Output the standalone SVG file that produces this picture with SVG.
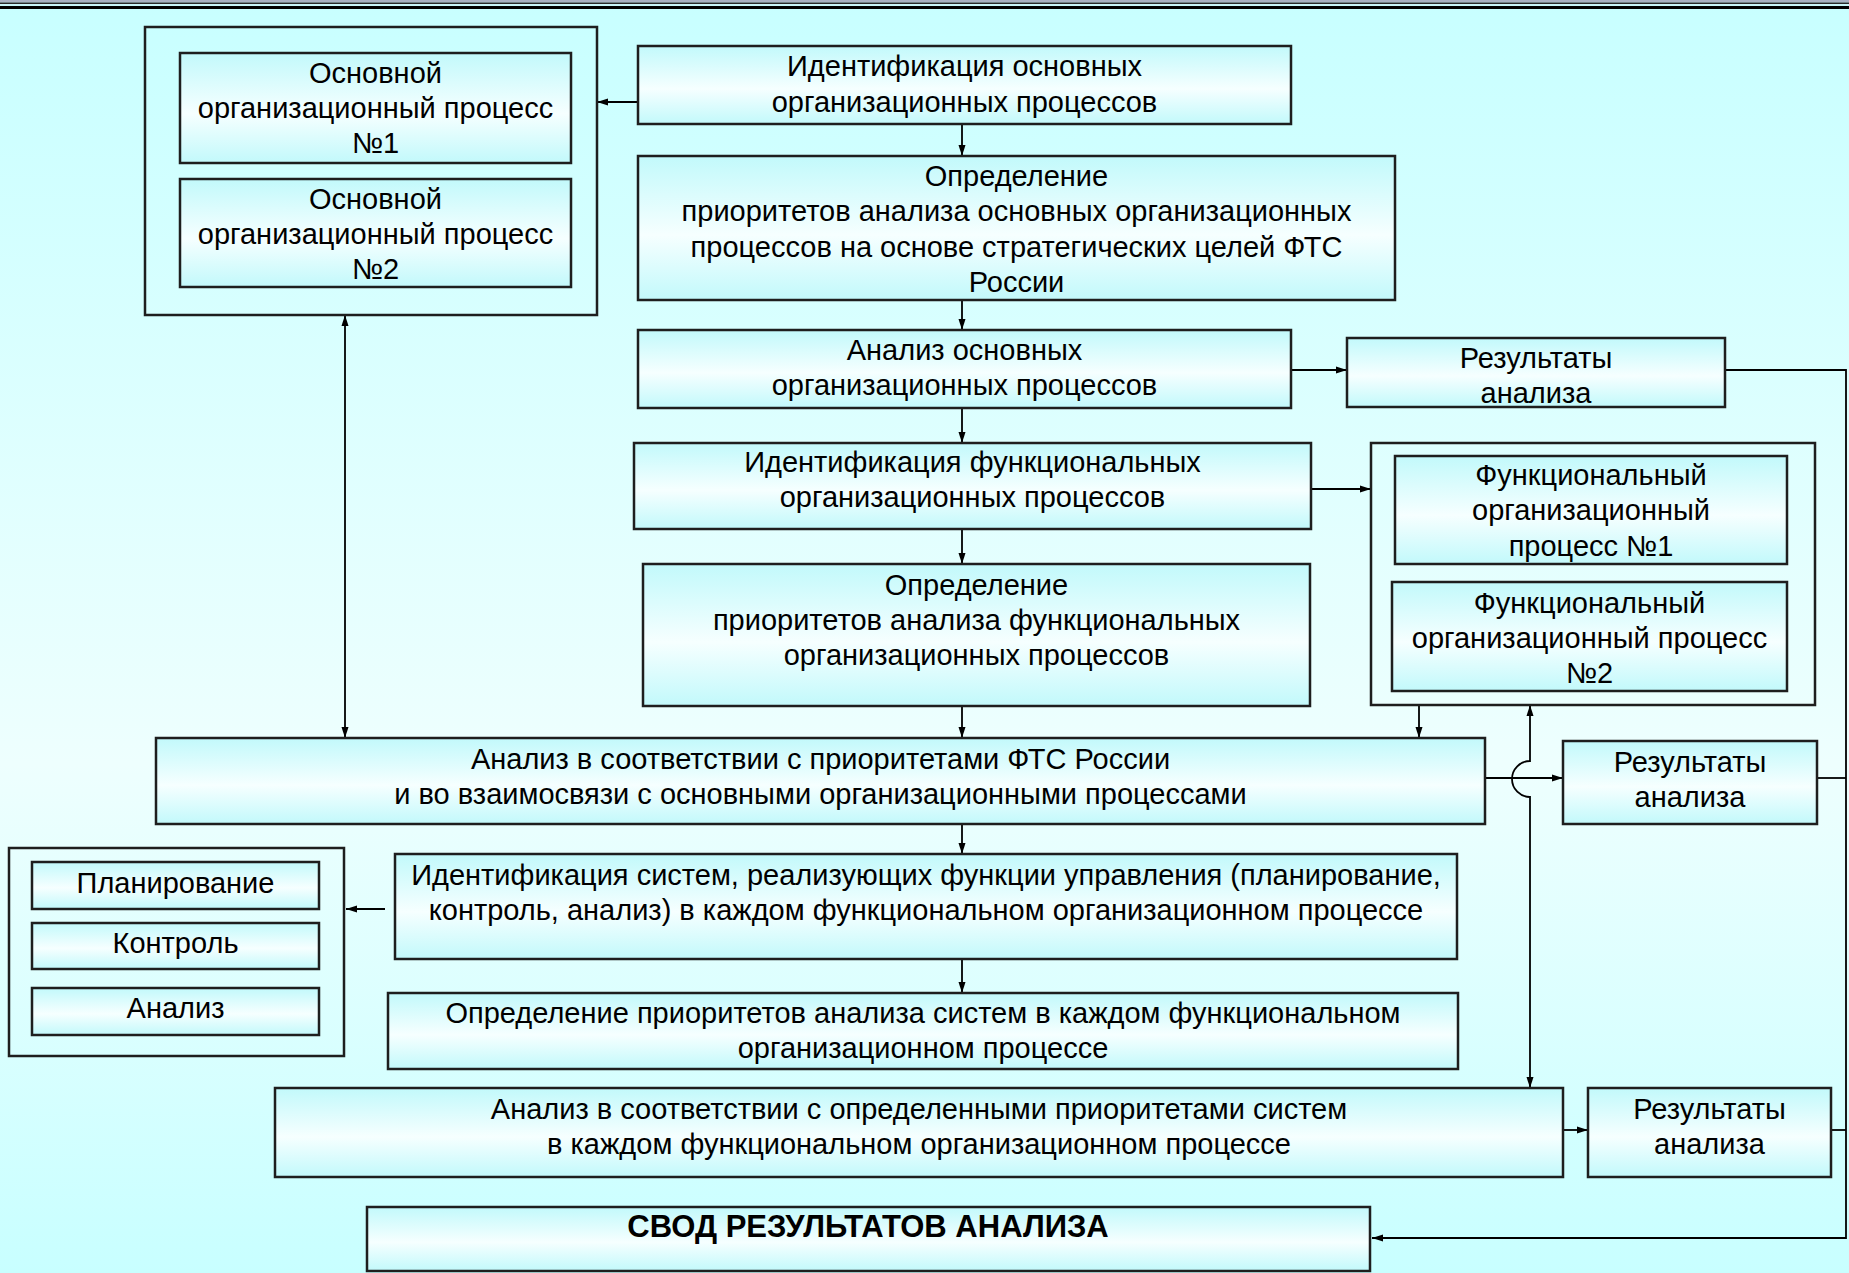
<svg xmlns="http://www.w3.org/2000/svg" width="1849" height="1273" viewBox="0 0 1849 1273">
<defs>
<linearGradient id="bg" x1="0" y1="0" x2="0" y2="1">
<stop offset="0" stop-color="#c8ffff"/>
<stop offset="0.6" stop-color="#eefffe"/>
<stop offset="1" stop-color="#c8ffff"/>
</linearGradient>
<linearGradient id="bx" x1="0" y1="0" x2="0" y2="1">
<stop offset="0" stop-color="#c2f9fb"/>
<stop offset="0.55" stop-color="#f6ffff"/>
<stop offset="1" stop-color="#c2f9fb"/>
</linearGradient>
<marker id="ah" viewBox="0 0 11 8" refX="11" refY="4" markerWidth="11" markerHeight="8" markerUnits="userSpaceOnUse" orient="auto-start-reverse">
<path d="M0,0.5 L11,4 L0,7.5 z" fill="#000"/>
</marker>
<style>
.box{fill:url(#bx);stroke:#1e1e1e;stroke-width:2.5}
.cont{fill:none;stroke:#1e1e1e;stroke-width:2.5}
.t{font-family:"Liberation Sans",Arial,sans-serif;font-size:29px;fill:#000;text-anchor:middle}
.b{font-weight:bold;font-size:31px}
.c{fill:none;stroke:#000;stroke-width:1.8}
.a{marker-end:url(#ah)}
.d{marker-start:url(#ah);marker-end:url(#ah)}
</style>
</defs>
<rect x="0" y="0" width="1849" height="1273" fill="url(#bg)"/>
<rect x="0" y="0" width="1849" height="2.5" fill="#a9b1c2"/>
<rect x="0" y="2.5" width="1849" height="1.5" fill="#2a2a2a"/>
<rect x="0" y="4" width="1849" height="2" fill="#c9f5f8"/>
<rect x="0" y="6" width="1849" height="3" fill="#000"/>

<g id="connectors">
<path class="c a" d="M638,102 H597"/>
<path class="c a" d="M962,124 V156"/>
<path class="c a" d="M962,300 V330"/>
<path class="c a" d="M1291,370 H1347"/>
<path class="c a" d="M962,408 V443"/>
<path class="c a" d="M1311,489 H1371"/>
<path class="c a" d="M962,529 V564"/>
<path class="c a" d="M962,706 V738"/>
<path class="c a" d="M1419,705 V738"/>
<path class="c d" d="M345,315 V738"/>
<path class="c d" d="M1530,705 V761 A18,18 0 0 0 1530,797 V1088"/>
<path class="c a" d="M1485,778 H1563"/>
<path class="c a" d="M962,824 V854"/>
<path class="c a" d="M385,909 H346"/>
<path class="c a" d="M962,959 V993"/>
<path class="c a" d="M1563,1130 H1588"/>
<path class="c a" d="M1725,370 H1846 V1238 H1372"/>
<path class="c" d="M1817,778 H1846"/>
<path class="c" d="M1831,1130 H1846"/>
</g>

<g id="osn-container"><rect class="cont" x="145" y="27" width="452" height="288"/></g>
<g id="osn1"><rect class="box" x="180" y="53" width="391" height="110"/>
<text class="t"><tspan x="375.5" y="83">Основной</tspan><tspan x="375.5" y="118">организационный процесс</tspan><tspan x="375.5" y="153">№1</tspan></text></g>
<g id="osn2"><rect class="box" x="180" y="179" width="391" height="108"/>
<text class="t"><tspan x="375.5" y="209">Основной</tspan><tspan x="375.5" y="244">организационный процесс</tspan><tspan x="375.5" y="279">№2</tspan></text></g>

<g id="ident-osn"><rect class="box" x="638" y="46" width="653" height="78"/>
<text class="t"><tspan x="964.5" y="76">Идентификация основных</tspan><tspan x="964.5" y="112">организационных процессов</tspan></text></g>

<g id="opred-osn"><rect class="box" x="638" y="156" width="757" height="144"/>
<text class="t"><tspan x="1016.5" y="186">Определение</tspan><tspan x="1016.5" y="221">приоритетов анализа основных организационных</tspan><tspan x="1016.5" y="257">процессов на основе стратегических целей ФТС</tspan><tspan x="1016.5" y="292">России</tspan></text></g>

<g id="analiz-osn"><rect class="box" x="638" y="330" width="653" height="78"/>
<text class="t"><tspan x="964.5" y="360">Анализ основных</tspan><tspan x="964.5" y="395">организационных процессов</tspan></text></g>

<g id="rez1"><rect class="box" x="1347" y="338" width="378" height="69"/>
<text class="t"><tspan x="1536" y="368">Результаты</tspan><tspan x="1536" y="403">анализа</tspan></text></g>

<g id="ident-func"><rect class="box" x="634" y="443" width="677" height="86"/>
<text class="t"><tspan x="972.5" y="472">Идентификация функциональных</tspan><tspan x="972.5" y="507">организационных процессов</tspan></text></g>

<g id="opred-func"><rect class="box" x="643" y="564" width="667" height="142"/>
<text class="t"><tspan x="976.5" y="595">Определение</tspan><tspan x="976.5" y="630">приоритетов анализа функциональных</tspan><tspan x="976.5" y="665">организационных процессов</tspan></text></g>

<g id="func-container"><rect class="cont" x="1371" y="443" width="444" height="262"/></g>
<g id="func1"><rect class="box" x="1395" y="456" width="392" height="108"/>
<text class="t"><tspan x="1591" y="485">Функциональный</tspan><tspan x="1591" y="520">организационный</tspan><tspan x="1591" y="556">процесс №1</tspan></text></g>
<g id="func2"><rect class="box" x="1392" y="582" width="395" height="109"/>
<text class="t"><tspan x="1589.5" y="613">Функциональный</tspan><tspan x="1589.5" y="648">организационный процесс</tspan><tspan x="1589.5" y="683">№2</tspan></text></g>

<g id="analiz-fts"><rect class="box" x="156" y="738" width="1329" height="86"/>
<text class="t"><tspan x="820.5" y="769">Анализ в соответствии с приоритетами ФТС России</tspan><tspan x="820.5" y="804">и во взаимосвязи с основными организационными процессами</tspan></text></g>

<g id="rez2"><rect class="box" x="1563" y="741" width="254" height="83"/>
<text class="t"><tspan x="1690" y="772">Результаты</tspan><tspan x="1690" y="807">анализа</tspan></text></g>

<g id="ident-sys"><rect class="box" x="395" y="854" width="1062" height="105"/>
<text class="t"><tspan x="926" y="885">Идентификация систем, реализующих функции управления (планирование,</tspan><tspan x="926" y="920">контроль, анализ) в каждом функциональном организационном процессе</tspan></text></g>

<g id="plan-container"><rect class="cont" x="9" y="848" width="335" height="208"/></g>
<g id="plan"><rect class="box" x="32" y="862" width="287" height="47"/>
<text class="t" x="175.5" y="893">Планирование</text></g>
<g id="kontrol"><rect class="box" x="32" y="923" width="287" height="46"/>
<text class="t" x="175.5" y="953">Контроль</text></g>
<g id="analiz-s"><rect class="box" x="32" y="988" width="287" height="47"/>
<text class="t" x="175.5" y="1018">Анализ</text></g>

<g id="opred-sys"><rect class="box" x="388" y="993" width="1070" height="76"/>
<text class="t"><tspan x="923" y="1023">Определение приоритетов анализа систем в каждом функциональном</tspan><tspan x="923" y="1058">организационном процессе</tspan></text></g>

<g id="analiz-sys"><rect class="box" x="275" y="1088" width="1288" height="89"/>
<text class="t"><tspan x="919" y="1119">Анализ в соответствии с определенными приоритетами систем</tspan><tspan x="919" y="1154">в каждом функциональном организационном процессе</tspan></text></g>

<g id="rez3"><rect class="box" x="1588" y="1088" width="243" height="89"/>
<text class="t"><tspan x="1709.5" y="1119">Результаты</tspan><tspan x="1709.5" y="1154">анализа</tspan></text></g>

<g id="svod"><rect class="box" x="367" y="1207" width="1003" height="64"/>
<text class="t b" x="868" y="1237">СВОД РЕЗУЛЬТАТОВ АНАЛИЗА</text></g>
</svg>
